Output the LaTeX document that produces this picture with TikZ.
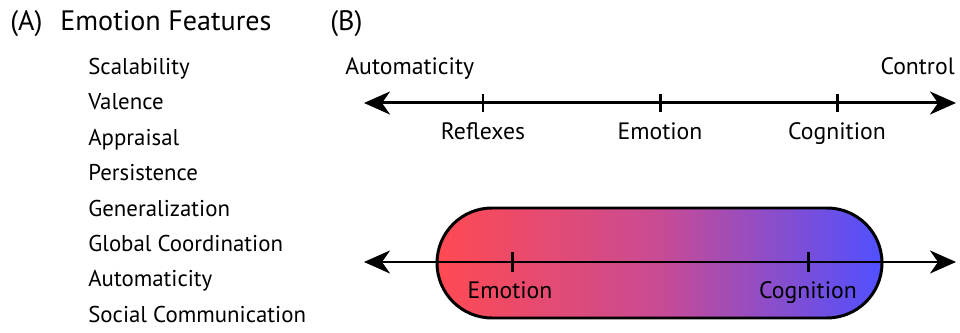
\documentclass[tikz,border=0pt]{standalone}
\usepackage{fontspec}
\setmainfont{PT Sans}
\usetikzlibrary{positioning,arrows.meta}

\definecolor{emored}{RGB}{255,74,82}
\definecolor{emomid}{RGB}{200,75,148}
\definecolor{cogblue}{RGB}{80,80,255}

\begin{document}
\begin{tikzpicture}[x=0.02cm,y=-0.02cm,
		axis/.style={line width=1.7pt,{Stealth[length=0.52cm,width=0.46cm,inset=0.16cm]}-{Stealth[length=0.52cm,width=0.46cm,inset=0.16cm]}},
		tick/.style={line width=1.7pt},
		feature/.style={anchor=base west,inner sep=0pt,font=\fontsize{13}{15}\selectfont},
		heading/.style={anchor=base west,inner sep=0pt,font=\fontsize{16}{18}\selectfont},
		lbl/.style={anchor=base,inner sep=0pt,font=\fontsize{13.5}{15}\selectfont}]
		\useasboundingbox (0,0) rectangle (960,333);
		% (A) list of features
		\node [heading] (A) at (10,31) {(A)};
		\node [heading] (feat) at (60,31) {Emotion Features};
		\foreach \name [count=\i from 0] in {Scalability,Valence,Appraisal,Persistence,Generalization,Global Coordination,Automaticity,Social Communication}
			\node [feature] (f\i) at (88,74.5+35.4*\i) {\name};
		% (B) top axis
		\node [heading] (B) at (330,31) {(B)};
		\node [lbl,anchor=base west] (auto) at (345,74.5) {Automaticity};
		\node [lbl,anchor=base east] (ctrl) at (955,74.5) {Control};
		\coordinate (L1) at (364,103);
		\coordinate (R1) at (956,103);
		\draw [axis] (L1) -- (R1);
		\foreach \x/\name/\txt in {483/refl/Reflexes,660/emo/Emotion,837/cog/Cognition}{
			\draw [tick] (\x,94) -- (\x,112);
			\node [lbl] (\name) at (\x,139.5) {\txt};
		}
		% (B) bottom axis with gradient box
		\shade [left color=emored,right color=cogblue,middle color=emomid,rounded corners=1.1cm]
			(437,208) rectangle (882,318);
		\draw [line width=1.7pt,rounded corners=1.1cm] (437,208) rectangle (882,318);
		\coordinate (L2) at (364,262);
		\coordinate (R2) at (956,262);
		\draw [axis] (L2) -- (R2);
		\draw [tick] (512,252) -- (512,272);
		\draw [tick] (808,252) -- (808,272);
		\node [lbl] (emo2) at (510,298.5) {Emotion};
		\node [lbl] (cog2) at (808,298.5) {Cognition};
\end{tikzpicture}
\end{document}
